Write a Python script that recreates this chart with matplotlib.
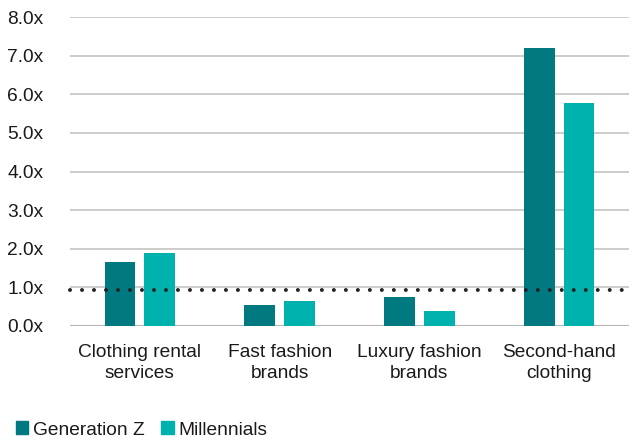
import matplotlib
matplotlib.use("Agg")
import matplotlib.pyplot as plt
from matplotlib.patches import Patch
import numpy as np

categories = ["Clothing rental\nservices", "Fast fashion\nbrands", "Luxury fashion\nbrands", "Second-hand\nclothing"]
gen_z = [1.65, 0.54, 0.74, 7.2]
millennials = [1.9, 0.66, 0.39, 5.78]
reference_level = 0.92
series_names = ["Generation Z", "Millennials"]
yticks = [0, 1, 2, 3, 4, 5, 6, 7, 8]
ytick_labels = ["0.0x", "1.0x", "2.0x", "3.0x", "4.0x", "5.0x", "6.0x", "7.0x", "8.0x"]

c_genz = "#007A80"
c_mill = "#00B2AD"
txt = "#1a1a1a"
fs = 13.8

plt.rcParams['font.family'] = ['Liberation Sans', 'DejaVu Sans']

fig = plt.figure(figsize=(6.42, 4.41), dpi=100)
ax = fig.add_axes([70/642, 1-326/441, 559/642, (326-17)/441])

x = np.arange(len(categories))
w = 0.22
off = 0.142
ax.bar(x - off, gen_z, w, color=c_genz, zorder=3)
ax.bar(x + off, millennials, w, color=c_mill, zorder=3)

ax.plot([-0.5, len(categories) - 0.5 + 0.01], [reference_level, reference_level],
        color="#222222", lw=2.85, dashes=(0.01, 3.02), dash_capstyle="round",
        zorder=4, clip_on=False)

ax.set_xlim(-0.5, len(categories) - 0.5)
ax.set_ylim(0, 8)
ax.set_yticks(yticks)
ax.set_yticklabels(ytick_labels)
ax.yaxis.grid(True, color="#c4c4c4", lw=1.2, zorder=0)
ax.set_axisbelow(True)
for s in ax.spines.values():
    s.set_visible(False)
ax.axhline(0, color="#b8b8b8", lw=1.6, zorder=2)
ax.tick_params(axis="y", length=0, pad=19, labelsize=fs, labelcolor=txt)
ax.set_xticks(x)
ax.set_xticklabels(categories, fontsize=fs, color=txt, linespacing=1.3)
ax.tick_params(axis="x", length=0, pad=13)

handles = [Patch(color=c_genz), Patch(color=c_mill)]
fig.legend(handles, series_names, loc="center left", bbox_to_anchor=(10/642, 1-430/441),
           ncol=2, frameon=False, fontsize=fs, handlelength=0.65, handleheight=0.65,
           handletextpad=0.25, columnspacing=0.85, borderaxespad=0, borderpad=0.3,
           labelcolor=txt)

fig.savefig("out.png", dpi=100)
